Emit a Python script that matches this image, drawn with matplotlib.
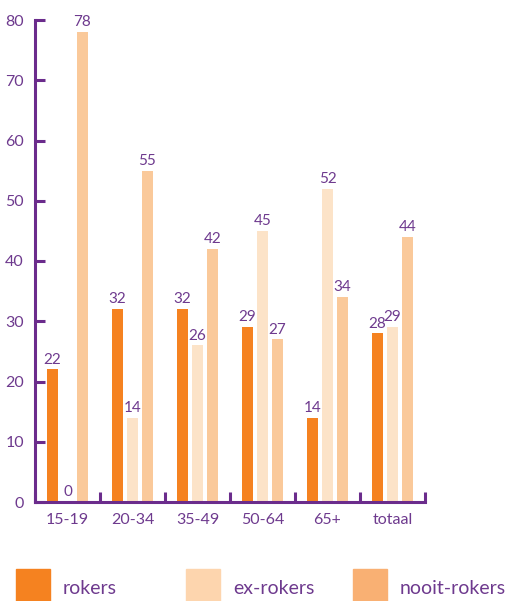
import matplotlib.pyplot as plt
from matplotlib.patches import Rectangle
import numpy as np

groups = ["15-19", "20-34", "35-49", "50-64", "65+", "totaal"]
rokers = [22, 32, 32, 29, 14, 28]
ex_rokers = [0, 14, 26, 45, 52, 29]
nooit_rokers = [78, 55, 42, 27, 34, 44]
series_names = ["rokers", "ex-rokers", "nooit-rokers"]

PURPLE = "#6b2c8c"
TEXT = "#6e3a8e"
BAR_COLORS = ["#f58220", "#fce3c8", "#fac99a"]
LEGEND_COLORS = ["#f58220", "#fdd5ae", "#f9b073"]

plt.rcParams["font.family"] = ["Lato", "DejaVu Sans"]

fig = plt.figure(figsize=(5.12, 6.01), dpi=100)
ax = fig.add_axes([35 / 512, 1 - 502 / 601, 390 / 512, 482 / 601])

x = np.arange(len(groups)) + 0.5
width = 0.17
offset = 0.23
for i, vals in enumerate([rokers, ex_rokers, nooit_rokers]):
    pos = x + (i - 1) * offset
    ax.bar(pos, vals, width=width, color=BAR_COLORS[i], zorder=2)
    for p, v in zip(pos, vals):
        ax.annotate(str(v), (p, v), xytext=(0, 2), textcoords="offset points",
                    ha="center", va="bottom", fontsize=11, color=TEXT)

ax.set_xlim(0, len(groups))
ax.set_ylim(0, 80)
ax.set_yticks(range(0, 81, 10))
ax.set_xticks(range(0, len(groups) + 1))
ax.set_xticklabels([])
ax.set_xticks(x, minor=True)
ax.set_xticklabels(groups, minor=True)

for s in ["top", "right"]:
    ax.spines[s].set_visible(False)
for s in ["left", "bottom"]:
    ax.spines[s].set_color(PURPLE)
    ax.spines[s].set_linewidth(2.2)

ax.tick_params(axis="y", direction="in", length=7.5, width=2.2, color=PURPLE,
               labelcolor=TEXT, labelsize=11.5, pad=8)
ax.tick_params(axis="x", which="major", direction="in", length=7.5, width=2.2,
               color=PURPLE)
ax.tick_params(axis="x", which="minor", length=0, labelcolor=TEXT,
               labelsize=11.5, pad=8)

# legend drawn by hand below the axes
leg_x = [16, 186, 353]
for i, name in enumerate(series_names):
    fig.patches.append(Rectangle((leg_x[i] / 512, 0), 34 / 512, 32 / 601,
                                 transform=fig.transFigure, color=LEGEND_COLORS[i]))
    fig.text((leg_x[i] + 47) / 512, 1 - 588 / 601, name, fontsize=14,
             color=TEXT, va="center", ha="left")

fig.savefig("out.png", dpi=100)
